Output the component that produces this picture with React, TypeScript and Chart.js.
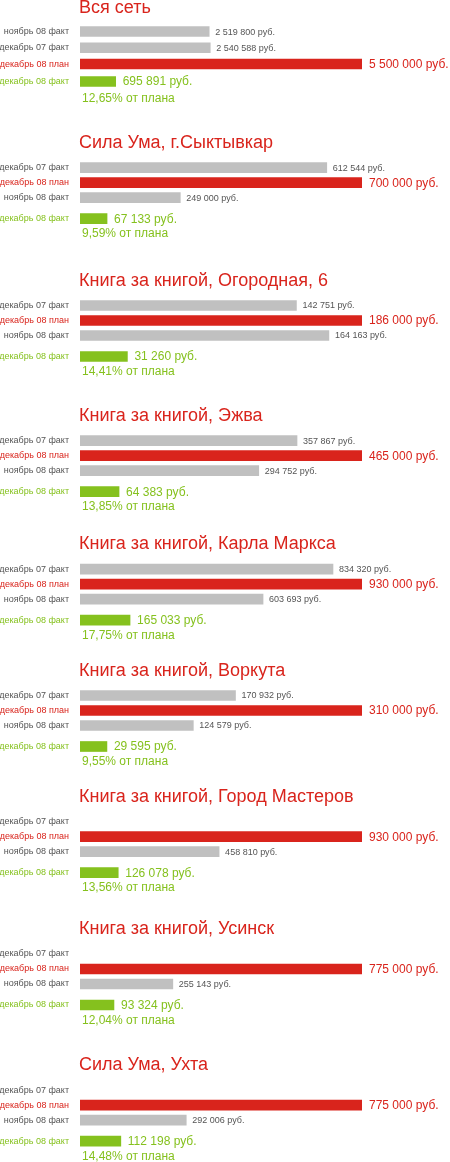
import React, { useEffect, useRef } from "react";
import { Chart, registerables } from "chart.js";

Chart.register(...registerables);

// ---------- data ----------
const STORES = [
  "Вся сеть",
  "Сила Ума, г.Сыктывкар",
  "Книга за книгой, Огородная, 6",
  "Книга за книгой, Эжва",
  "Книга за книгой, Карла Маркса",
  "Книга за книгой, Воркута",
  "Книга за книгой, Город Мастеров",
  "Книга за книгой, Усинск",
  "Сила Ума, Ухта",
];

const LABEL_NOV08_FACT = "ноябрь 08 факт";
const LABEL_DEC07_FACT = "декабрь 07 факт";
const LABEL_DEC08_PLAN = "декабрь 08 план";
const LABEL_DEC08_FACT = "декабрь 08 факт";

const PLAN_DEC08 = [5500000, 700000, 186000, 465000, 930000, 310000, 930000, 775000, 775000];
const FACT_DEC07: (number | null)[] = [2540588, 612544, 142751, 357867, 834320, 170932, null, null, null];
const FACT_NOV08 = [2519800, 249000, 164163, 294752, 603693, 124579, 458810, 255143, 292006];
const FACT_DEC08 = [695891, 67133, 31260, 64383, 165033, 29595, 126078, 93324, 112198];
const PCT_OF_PLAN = ["12,65", "9,59", "14,41", "13,85", "17,75", "9,55", "13,56", "12,04", "14,48"];

// ---------- layout / style ----------
const ROWS_TOP = [23.4, 160.2, 298, 433.2, 561.7, 688, 814.2, 946.5, 1082.7];
const CANVAS_H = 120;
const FONT = '"Liberation Sans", Arial, sans-serif';
const RED = "#d9241c";
const GRAY = "#c0c0c0";
const GREEN = "#85c11e";
const LABEL_GRAY = "#555555";
const VALUE_GRAY = "#555555";

const fmt = (v: number) => v.toString().replace(/\B(?=(\d{3})+(?!\d))/g, " ") + " руб.";

type Row = { label: string; value: number | null; plan: boolean };

function Panel({ i }: { i: number }) {
  const ref = useRef<HTMLCanvasElement>(null);
  const canvasTop = Math.floor(ROWS_TOP[i]) - 30;

  useEffect(() => {
    const first = i === 0;
    const pitch = first ? 16.25 : 15;
    const greenH = first ? 18.7 : 27;
    const titleOff = first ? -10.7 : -12.5;
    const pctOff = first ? 20.8 : 18.5;
    const padTop = ROWS_TOP[i] - canvasTop;
    const areaH = 3 * pitch + greenH;

    const nov: Row = { label: LABEL_NOV08_FACT, value: FACT_NOV08[i], plan: false };
    const dec07: Row = { label: LABEL_DEC07_FACT, value: FACT_DEC07[i], plan: false };
    const plan: Row = { label: LABEL_DEC08_PLAN, value: PLAN_DEC08[i], plan: true };
    const rows: Row[] = first ? [nov, dec07, plan] : [dec07, plan, nov];

    const textPlugin = {
      id: "panelText",
      afterDatasetsDraw(chart: any) {
        const ctx = chart.ctx as CanvasRenderingContext2D;
        const area = chart.chartArea;
        ctx.save();
        ctx.textAlign = "left";
        ctx.textBaseline = "alphabetic";
        ctx.fillStyle = RED;
        ctx.font = `18px ${FONT}`;
        ctx.fillText(STORES[i], area.left - 1, area.top + titleOff);

        const meta = chart.getDatasetMeta(0);
        meta.data.forEach((bar: any, k: number) => {
          const r = rows[k];
          if (r.value == null) return;
          ctx.textBaseline = "middle";
          if (r.plan) {
            ctx.font = `12px ${FONT}`;
            ctx.fillStyle = RED;
            ctx.fillText(fmt(r.value), bar.x + 7, bar.y + 0.5);
          } else {
            ctx.font = `9px ${FONT}`;
            ctx.fillStyle = VALUE_GRAY;
            ctx.fillText(fmt(r.value), bar.x + 6, bar.y + 0.5);
          }
        });

        const g = chart.getDatasetMeta(1).data[0];
        ctx.font = `12px ${FONT}`;
        ctx.fillStyle = GREEN;
        ctx.textBaseline = "middle";
        ctx.fillText(fmt(FACT_DEC08[i]), g.x + 7, g.y + 0.5);
        ctx.textBaseline = "alphabetic";
        ctx.fillText(PCT_OF_PLAN[i] + "% от плана", area.left + 2, g.y + pctOff);
        ctx.restore();
      },
    };

    const axisCommon = {
      type: "category" as const,
      position: "left" as const,
      stack: "rows",
      offset: true,
      grid: { display: false, drawTicks: false },
      border: { display: false },
      afterFit: (s: any) => {
        s.width = 80;
      },
    };

    const chart = new Chart(ref.current as HTMLCanvasElement, {
      type: "bar",
      data: {
        datasets: [
          {
            data: rows.map((r) => r.value) as any,
            yAxisID: "y",
            xAxisID: "x",
            backgroundColor: rows.map((r) => (r.plan ? RED : GRAY)),
            barThickness: 10,
            grouped: false,
          },
          {
            data: [FACT_DEC08[i]],
            yAxisID: "y2",
            xAxisID: "x",
            backgroundColor: GREEN,
            barThickness: 10,
            grouped: false,
          },
        ],
      },
      options: {
        indexAxis: "y",
        animation: false,
        responsive: false,
        events: [],
        layout: {
          padding: { top: padTop, bottom: CANVAS_H - padTop - areaH, left: 0, right: 88 },
        },
        plugins: {
          legend: { display: false },
          tooltip: { enabled: false },
          title: { display: false },
        },
        scales: {
          x: { type: "linear", display: false, min: 0, max: PLAN_DEC08[i] },
          y: {
            ...axisCommon,
            labels: rows.map((r) => r.label),
            stackWeight: 3 * pitch,
            weight: 2,
            ticks: {
              autoSkip: false,
              padding: 11,
              color: (c: any) => (rows[c.index] && rows[c.index].plan ? RED : LABEL_GRAY),
              font: { family: FONT, size: 9 },
            },
          },
          y2: {
            ...axisCommon,
            labels: [LABEL_DEC08_FACT],
            stackWeight: greenH,
            weight: 1,
            ticks: {
              autoSkip: false,
              padding: 11,
              color: GREEN,
              font: { family: FONT, size: 9 },
            },
          },
        } as any,
      },
      plugins: [textPlugin],
    });
    return () => chart.destroy();
  }, [i, canvasTop]);

  return (
    <canvas
      ref={ref}
      width={450}
      height={CANVAS_H}
      style={{ position: "absolute", left: 0, top: canvasTop, width: 450, height: CANVAS_H }}
    />
  );
}

export default function App() {
  return (
    <div
      style={{
        position: "absolute",
        left: 0,
        top: 0,
        width: 450,
        height: 1162,
        overflow: "hidden",
        background: "#ffffff",
      }}
    >
      {STORES.map((_, i) => (
        <Panel key={i} i={i} />
      ))}
    </div>
  );
}
